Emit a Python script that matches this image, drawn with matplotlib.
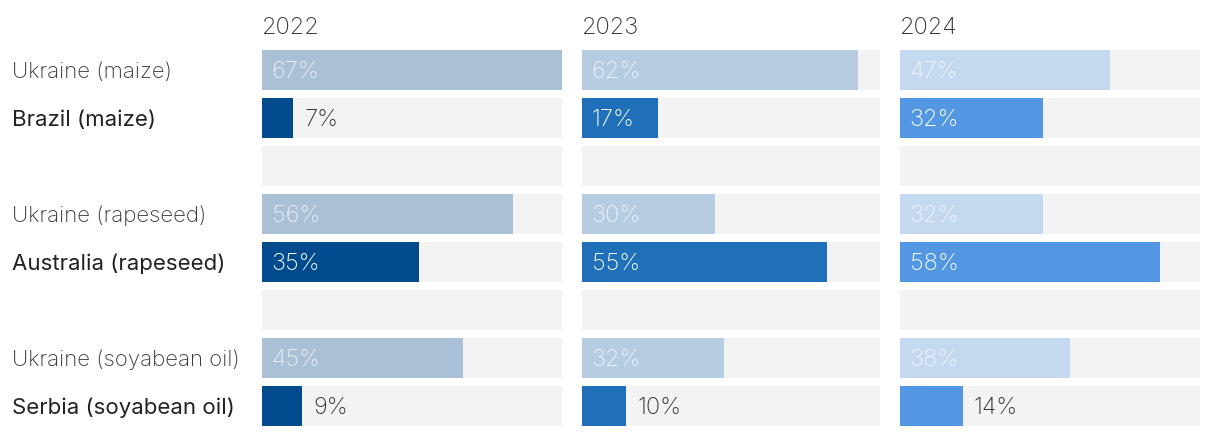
import matplotlib
matplotlib.use("Agg")
import matplotlib.pyplot as plt

years = ["2022", "2023", "2024"]
labels = ["Ukraine (maize)", "Brazil (maize)", "",
          "Ukraine (rapeseed)", "Australia (rapeseed)", "",
          "Ukraine (soyabean oil)", "Serbia (soyabean oil)"]
werte = {
    "2022": [67, 7, None, 56, 35, None, 45, 9],
    "2023": [62, 17, None, 30, 55, None, 32, 10],
    "2024": [47, 32, None, 32, 58, None, 38, 14],
}
hell = {"2022": "#aac0d7", "2023": "#b5cce3", "2024": "#c4d8f0"}
dunkel = {"2022": "#004b8d", "2023": "#1f6fb9", "2024": "#5397e2"}
maximum = 67

plt.rcParams["font.family"] = ["Inter", "DejaVu Sans"]
W, H = 1220, 436
fig = plt.figure(figsize=(W / 100, H / 100), dpi=100)

panel_x = [262, 582, 900]
panel_w = [300, 298, 300]
oben, unten = 50, 426
n = len(labels)
h = 40 / 48

for x0, pw, jahr in zip(panel_x, panel_w, years):
    ax = fig.add_axes([x0 / W, (H - unten) / H, pw / W, (unten - oben) / H])
    ax.set_xlim(0, maximum)
    ax.set_ylim(n - 1 + h / 2, -h / 2)
    ax.axis("off")
    for i, v in enumerate(werte[jahr]):
        ax.barh(i, maximum, height=h, color="#f3f3f3", linewidth=0)
        if v is None:
            continue
        ukraine = labels[i].startswith("Ukraine")
        farbe = hell[jahr] if ukraine else dunkel[jahr]
        ax.barh(i, v, height=h, color=farbe, linewidth=0)
        if v >= 15:
            ax.annotate(f"{v}%", (0, i), xytext=(7, 0), textcoords="offset points",
                        va="center_baseline", ha="left", fontsize=17, fontweight="light",
                        color="white", alpha=0.75 if ukraine else 1)
        else:
            ax.annotate(f"{v}%", (v, i), xytext=(8, 0), textcoords="offset points",
                        va="center_baseline", ha="left", fontsize=17, fontweight="light",
                        color="#333333")
    fig.text(x0 / W, 1 - 26 / H, jahr, ha="left", va="center_baseline", fontsize=17,
             fontweight="light", color="#333333")

for i, lab in enumerate(labels):
    if not lab:
        continue
    y = oben + 48 * i + 20
    ukraine = lab.startswith("Ukraine")
    fig.text(12 / W, 1 - y / H, lab, ha="left", va="center_baseline", fontsize=16,
             fontweight="light" if ukraine else "normal",
             color="#3a3a3a" if ukraine else "#222222")

fig.savefig("out.png", dpi=100)
